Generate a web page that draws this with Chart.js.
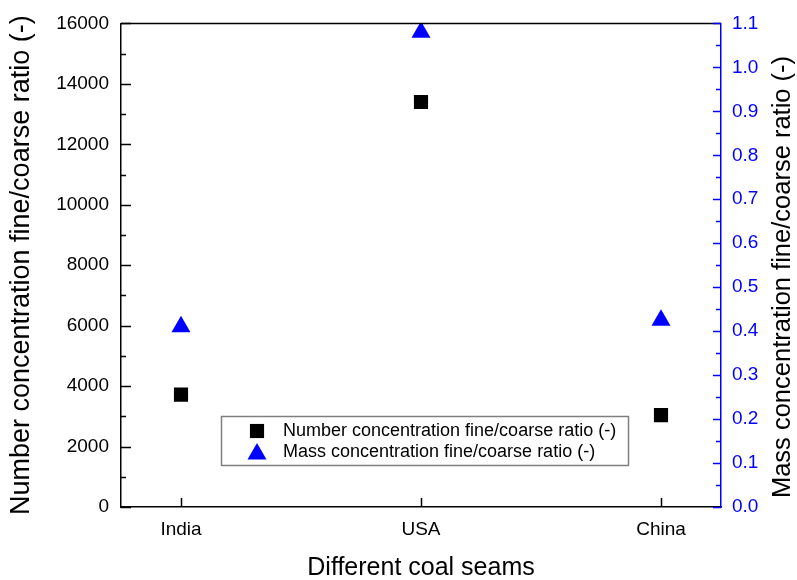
<!DOCTYPE html>
<html>
<head>
<meta charset="utf-8">
<script src="https://cdn.jsdelivr.net/npm/chart.js@4.4.1/dist/chart.umd.min.js"></script>
<style>
  html, body { margin: 0; padding: 0; background: #fff; }
  #wrap { width: 797px; height: 580px; }
</style>
</head>
<body>
<div id="wrap"><canvas id="c" width="797" height="580"></canvas></div>
<script>
// Coal seam categories and the two measured ratios
const seams = ['India', 'USA', 'China'];
const numberRatio = [3720, 13400, 3040];   // left axis
const massRatio = [0.41, 1.08, 0.425];     // right axis

// Axis ranges and tick steps
const numberAxis = { min: 0, max: 16000, step: 2000 };
const massAxis = { min: 0, max: 1.1, step: 0.1 };

// Text
const seriesNames = ['Number concentration fine/coarse ratio (-)', 'Mass concentration fine/coarse ratio (-)'];
const xTitle = 'Different coal seams';
const leftTitle = 'Number concentration fine/coarse ratio (-)';
const rightTitle = 'Mass concentration fine/coarse ratio (-)';

const FONT = "'Liberation Sans', Arial, sans-serif";
const BLUE = '#0000ff';

function drawMarker(ctx, style, x, y, r, color) {
  ctx.save();
  ctx.fillStyle = color;
  ctx.beginPath();
  if (style === 'rect') {
    const s = Math.SQRT1_2 * r;
    ctx.rect(x - s, y - s, 2 * s, 2 * s);
  } else {
    for (let k = 0; k < 3; k++) {
      const a = k * 2 * Math.PI / 3;
      const px = x + Math.sin(a) * r, py = y - Math.cos(a) * r;
      if (k === 0) ctx.moveTo(px, py); else ctx.lineTo(px, py);
    }
    ctx.closePath();
  }
  ctx.fill();
  ctx.restore();
}

// Inward tick marks, frame, axis titles and the boxed legend
const decorations = {
  id: 'decorations',
  afterDraw(chart) {
    const ctx = chart.ctx;
    const a = chart.chartArea;
    const sy = chart.scales.y, sy2 = chart.scales.y2, sx = chart.scales.x;
    ctx.save();
    ctx.lineWidth = 1.5;

    // top frame line
    ctx.strokeStyle = '#000';
    ctx.beginPath();
    ctx.moveTo(a.left, a.top);
    ctx.lineTo(a.right, a.top);
    ctx.stroke();

    // left axis ticks (major + minor)
    ctx.beginPath();
    for (let v = numberAxis.min; v <= numberAxis.max + 1e-9; v += numberAxis.step / 2) {
      const major = Math.abs(v / numberAxis.step - Math.round(v / numberAxis.step)) < 1e-6;
      const py = Math.round(sy.getPixelForValue(v)) + 0.5;
      ctx.moveTo(a.left, py);
      ctx.lineTo(a.left + (major ? 10 : 5), py);
    }
    ctx.stroke();

    // bottom ticks at each seam
    ctx.beginPath();
    seams.forEach((_, i) => {
      const px = Math.round(sx.getPixelForValue(i)) + 0.5;
      ctx.moveTo(px, a.bottom);
      ctx.lineTo(px, a.bottom - 9);
    });
    ctx.stroke();

    // right axis ticks in blue
    ctx.strokeStyle = BLUE;
    ctx.beginPath();
    const nSteps = Math.round((massAxis.max - massAxis.min) / (massAxis.step / 2));
    for (let k = 0; k <= nSteps; k++) {
      const v = massAxis.min + k * massAxis.step / 2;
      const major = k % 2 === 0;
      const py = Math.round(sy2.getPixelForValue(v)) + 0.5;
      ctx.moveTo(a.right, py);
      ctx.lineTo(a.right - (major ? 8 : 5), py);
    }
    ctx.stroke();

    // axis titles
    ctx.fillStyle = '#000';
    ctx.textAlign = 'center';
    ctx.textBaseline = 'middle';
    ctx.font = '25px ' + FONT;
    ctx.fillText(xTitle, (a.left + a.right) / 2, 568);

    ctx.font = '27px ' + FONT;
    ctx.save();
    ctx.translate(22, (a.top + a.bottom) / 2);
    ctx.rotate(-Math.PI / 2);
    ctx.fillText(leftTitle, 0, 0);
    ctx.restore();

    ctx.font = '25.5px ' + FONT;
    ctx.save();
    ctx.translate(783, 277);
    ctx.rotate(-Math.PI / 2);
    ctx.fillText(rightTitle, 0, 0);
    ctx.restore();

    // legend box
    const box = { x: 221.5, y: 416.5, w: 407, h: 49 };
    ctx.fillStyle = '#fff';
    ctx.fillRect(box.x, box.y, box.w, box.h);
    ctx.strokeStyle = '#7f7f7f';
    ctx.lineWidth = 1.5;
    ctx.strokeRect(box.x, box.y, box.w, box.h);
    ctx.font = '18px ' + FONT;
    ctx.textAlign = 'left';
    ctx.fillStyle = '#000';
    chart.data.datasets.forEach((ds, i) => {
      const yy = 431 + i * 21;
      drawMarker(ctx, ds.pointStyle, 257, yy + (ds.pointStyle === 'triangle' ? 2 : 0),
                 ds.pointStyle === 'triangle' ? 11 : 10, ds.backgroundColor);
      ctx.fillStyle = '#000';
      ctx.fillText(ds.label, 283, yy);
    });
    ctx.restore();
  }
};

new Chart(document.getElementById('c'), {
  type: 'scatter',
  data: {
    datasets: [
      {
        label: seriesNames[0],
        data: numberRatio.map((v, i) => ({ x: i, y: v })),
        yAxisID: 'y',
        pointStyle: 'rect',
        pointRadius: 10,
        pointHoverRadius: 10,
        backgroundColor: '#000000',
        borderColor: '#000000',
        borderWidth: 0
      },
      {
        label: seriesNames[1],
        data: massRatio.map((v, i) => ({ x: i, y: v })),
        yAxisID: 'y2',
        pointStyle: 'triangle',
        pointRadius: 11,
        pointHoverRadius: 11,
        backgroundColor: BLUE,
        borderColor: BLUE,
        borderWidth: 0
      }
    ]
  },
  options: {
    responsive: false,
    animation: false,
    devicePixelRatio: 1,
    layout: { padding: { top: 20, left: 0, right: 0, bottom: 0 } },
    plugins: { legend: { display: false }, tooltip: { enabled: false } },
    scales: {
      x: {
        type: 'linear',
        min: -0.25,
        max: 2.25,
        afterBuildTicks: s => { s.ticks = seams.map((_, i) => ({ value: i })); },
        afterFit: s => { s.height = 73; },
        grid: { display: false, drawTicks: false },
        border: { display: true, color: '#000', width: 1.5 },
        ticks: {
          callback: v => seams[v] ?? '',
          autoSkip: false,
          maxRotation: 0,
          padding: 11,
          color: '#000',
          font: { family: FONT, size: 19 }
        }
      },
      y: {
        position: 'left',
        min: numberAxis.min,
        max: numberAxis.max,
        afterFit: s => { s.width = 121; },
        grid: { display: false, drawTicks: false },
        border: { display: true, color: '#000', width: 1.5 },
        ticks: {
          stepSize: numberAxis.step,
          padding: 12,
          color: '#000',
          callback: v => String(v),
          font: { family: FONT, size: 19 }
        }
      },
      y2: {
        position: 'right',
        min: massAxis.min,
        max: massAxis.max,
        afterFit: s => { s.width = 76; },
        grid: { display: false, drawTicks: false },
        border: { display: true, color: BLUE, width: 1.5 },
        ticks: {
          stepSize: massAxis.step,
          padding: 11,
          color: BLUE,
          callback: v => Number(v).toFixed(1),
          font: { family: FONT, size: 19 }
        }
      }
    }
  },
  plugins: [decorations]
});
</script>
</body>
</html>
